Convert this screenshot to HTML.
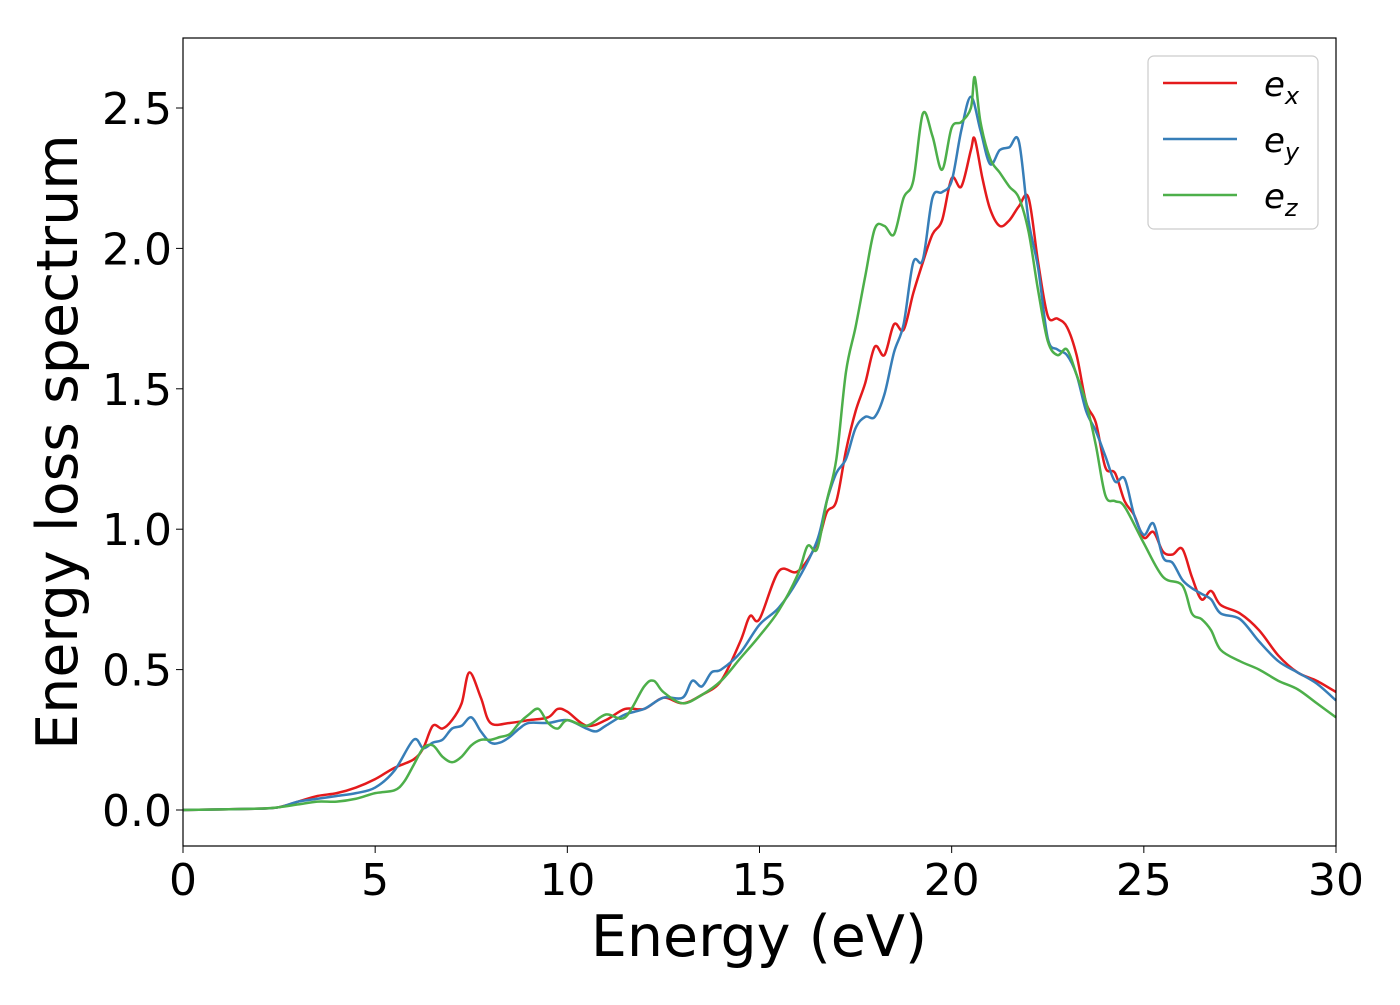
<!DOCTYPE html>
<html><head><meta charset="utf-8"><style>
body{margin:0;background:#fff;}
svg text{font-family:"DejaVu Sans","Liberation Sans",sans-serif;fill:#000;}
</style></head><body>
<svg id="chart" width="1400" height="1000" viewBox="0 0 1400 1000" xmlns="http://www.w3.org/2000/svg">
<g id="axes"></g>
<g id="series"></g>
<rect x="183" y="38" width="1153" height="808" fill="none" stroke="#000" stroke-width="1.2"/>
<g>
<rect x="1148" y="56" width="170" height="173" rx="6" fill="#fff" stroke="#ccc" stroke-width="1.2"/>
<line x1="1163" y1="83" x2="1237" y2="83" stroke="#e41a1c" stroke-width="2.5"/>
<line x1="1163" y1="139" x2="1237" y2="139" stroke="#377eb8" stroke-width="2.5"/>
<line x1="1163" y1="195" x2="1237" y2="195" stroke="#4daf4a" stroke-width="2.5"/>
<text x="1264" y="96" font-size="34" font-style="italic">e<tspan font-size="24" dy="8">x</tspan></text>
<text x="1264" y="152" font-size="34" font-style="italic">e<tspan font-size="24" dy="8">y</tspan></text>
<text x="1264" y="208" font-size="34" font-style="italic">e<tspan font-size="24" dy="8">z</tspan></text>
</g>
<text x="759" y="956" font-size="57" text-anchor="middle">Energy (eV)</text>
<text transform="translate(77,442) rotate(-90)" font-size="57" text-anchor="middle">Energy loss spectrum</text>
</svg>
<script>
const xTicks=[0,5,10,15,20,25,30];
const yTicks=[0.0,0.5,1.0,1.5,2.0,2.5];
const yTickLabels=["0.0","0.5","1.0","1.5","2.0","2.5"];
const exX=[0,2,2.5,3,3.5,4,4.5,5,5.5,6,6.25,6.5,6.75,7,7.25,7.45,7.75,8,8.5,9,9.5,9.75,10,10.5,11,11.5,12,12.5,13,13.5,14,14.5,14.75,15,15.5,16,16.5,16.75,17,17.25,17.5,17.75,18,18.25,18.5,18.75,19,19.25,19.5,19.75,20,20.25,20.5,20.6,20.8,21,21.25,21.5,21.75,22,22.25,22.5,22.75,23,23.25,23.5,23.75,24,24.25,24.5,24.75,25,25.25,25.5,25.75,26,26.25,26.5,26.75,27,27.5,28,28.5,29,29.5,30];
const exY=[0,0.005,0.01,0.03,0.05,0.06,0.08,0.11,0.15,0.18,0.22,0.3,0.29,0.32,0.38,0.49,0.4,0.31,0.31,0.32,0.33,0.36,0.35,0.3,0.32,0.36,0.36,0.4,0.38,0.41,0.46,0.6,0.69,0.68,0.85,0.85,0.95,1.06,1.1,1.28,1.42,1.52,1.65,1.62,1.73,1.71,1.84,1.95,2.05,2.1,2.25,2.22,2.35,2.39,2.25,2.14,2.08,2.1,2.15,2.18,1.95,1.76,1.75,1.72,1.62,1.45,1.38,1.22,1.2,1.1,1.05,0.97,0.99,0.92,0.91,0.93,0.83,0.75,0.78,0.73,0.7,0.64,0.55,0.49,0.46,0.42];
const eyX=[0,2,2.5,3,3.5,4,4.5,5,5.5,6,6.25,6.5,6.75,7,7.25,7.5,7.75,8,8.25,8.5,8.75,9,9.5,10,10.5,10.75,11,11.5,12,12.5,13,13.25,13.5,13.75,14,14.5,15,15.5,16,16.5,16.75,17,17.25,17.5,17.75,18,18.25,18.5,18.75,19,19.25,19.5,19.75,20,20.25,20.5,20.75,21,21.25,21.5,21.75,22,22.25,22.5,22.75,23,23.25,23.5,23.75,24,24.25,24.5,24.75,25,25.25,25.5,25.75,26,26.25,26.5,26.75,27,27.5,28,28.5,29,29.5,30];
const eyY=[0,0.005,0.01,0.03,0.04,0.05,0.06,0.08,0.14,0.25,0.22,0.24,0.25,0.29,0.3,0.33,0.28,0.24,0.24,0.26,0.29,0.31,0.31,0.32,0.29,0.28,0.3,0.34,0.36,0.4,0.4,0.46,0.44,0.49,0.5,0.56,0.66,0.72,0.82,0.96,1.1,1.2,1.25,1.36,1.4,1.4,1.48,1.63,1.73,1.95,1.96,2.18,2.2,2.24,2.42,2.54,2.42,2.3,2.35,2.36,2.38,2.1,1.93,1.68,1.64,1.62,1.55,1.42,1.35,1.26,1.17,1.18,1.05,0.98,1.02,0.9,0.88,0.82,0.79,0.77,0.75,0.7,0.68,0.6,0.53,0.49,0.45,0.39];
const ezX=[0,2,2.5,3,3.5,4,4.5,5,5.5,5.75,6,6.25,6.5,6.75,7,7.25,7.5,7.75,8,8.25,8.5,8.75,9,9.25,9.5,9.75,10,10.5,11,11.5,12,12.25,12.5,13,13.5,14,14.5,15,15.5,16,16.25,16.5,16.75,17,17.25,17.5,17.75,18,18.25,18.5,18.75,19,19.25,19.5,19.75,20,20.25,20.5,20.6,20.75,21,21.25,21.5,21.75,22,22.25,22.5,22.75,23,23.25,23.5,23.75,24,24.25,24.5,25,25.5,26,26.25,26.5,26.75,27,27.5,28,28.5,29,29.5,30];
const ezY=[0,0.005,0.01,0.02,0.03,0.03,0.04,0.06,0.07,0.1,0.16,0.22,0.23,0.19,0.17,0.19,0.23,0.25,0.25,0.26,0.27,0.31,0.34,0.36,0.31,0.29,0.32,0.3,0.34,0.33,0.44,0.46,0.42,0.38,0.41,0.46,0.54,0.62,0.71,0.84,0.94,0.93,1.1,1.25,1.56,1.72,1.9,2.07,2.08,2.05,2.18,2.24,2.48,2.4,2.28,2.43,2.45,2.5,2.61,2.45,2.32,2.27,2.22,2.18,2.06,1.85,1.67,1.62,1.64,1.55,1.45,1.3,1.12,1.1,1.08,0.95,0.83,0.8,0.7,0.68,0.64,0.57,0.53,0.5,0.46,0.43,0.38,0.33];
const X0=183,X1=1336,Y0px=810,YPU=280.8;
function sx(v){return X0+(X1-X0)*v/30;}
function sy(v){return Y0px-v*YPU;}
const NS="http://www.w3.org/2000/svg";
const axes=document.getElementById('axes');
xTicks.forEach(t=>{
  const l=document.createElementNS(NS,'line');
  
  
  l.setAttribute('x1',sx(t));l.setAttribute('x2',sx(t));l.setAttribute('y1',846);l.setAttribute('y2',853);l.setAttribute('stroke','#000');
  axes.appendChild(l);
  const tx=document.createElementNS(NS,'text');
  
  
  tx.setAttribute('x',sx(t));tx.setAttribute('y',895);tx.setAttribute('font-size','44');tx.setAttribute('text-anchor','middle');
  tx.textContent=t;axes.appendChild(tx);
});
yTicks.forEach((t,i)=>{
  const l=document.createElementNS(NS,'line');
  
  
  l.setAttribute('x1',176);l.setAttribute('x2',183);l.setAttribute('y1',sy(t));l.setAttribute('y2',sy(t));l.setAttribute('stroke','#000');
  axes.appendChild(l);
  const tx=document.createElementNS(NS,'text');
  
  
  tx.setAttribute('x',172);tx.setAttribute('y',sy(t)+16);tx.setAttribute('font-size','44');tx.setAttribute('text-anchor','end');
  tx.textContent=yTickLabels[i];axes.appendChild(tx);
});
function pathFor(xs,ys){
  const p=xs.map((x,i)=>[sx(x),sy(ys[i])]);
  let d='M'+p[0][0]+','+p[0][1];
  for(let i=0;i<p.length-1;i++){
    const p0=p[Math.max(0,i-1)],p1=p[i],p2=p[i+1],p3=p[Math.min(p.length-1,i+2)];
    const c1=[p1[0]+(p2[0]-p0[0])/6,p1[1]+(p2[1]-p0[1])/6];
    const c2=[p2[0]-(p3[0]-p1[0])/6,p2[1]-(p3[1]-p1[1])/6];
    d+=' C'+c1+' '+c2+' '+p2;
  }
  return d;
}
const ser=document.getElementById('series');
[[exX,exY,'#e41a1c','line-ex'],[eyX,eyY,'#377eb8','line-ey'],[ezX,ezY,'#4daf4a','line-ez']].forEach(s=>{
  const pa=document.createElementNS(NS,'path');
  
  
  pa.setAttribute('d',pathFor(s[0],s[1]));pa.setAttribute('fill','none');pa.setAttribute('stroke',s[2]);pa.setAttribute('stroke-width','2.5');
  ser.appendChild(pa);
});
</script>
</body></html>
